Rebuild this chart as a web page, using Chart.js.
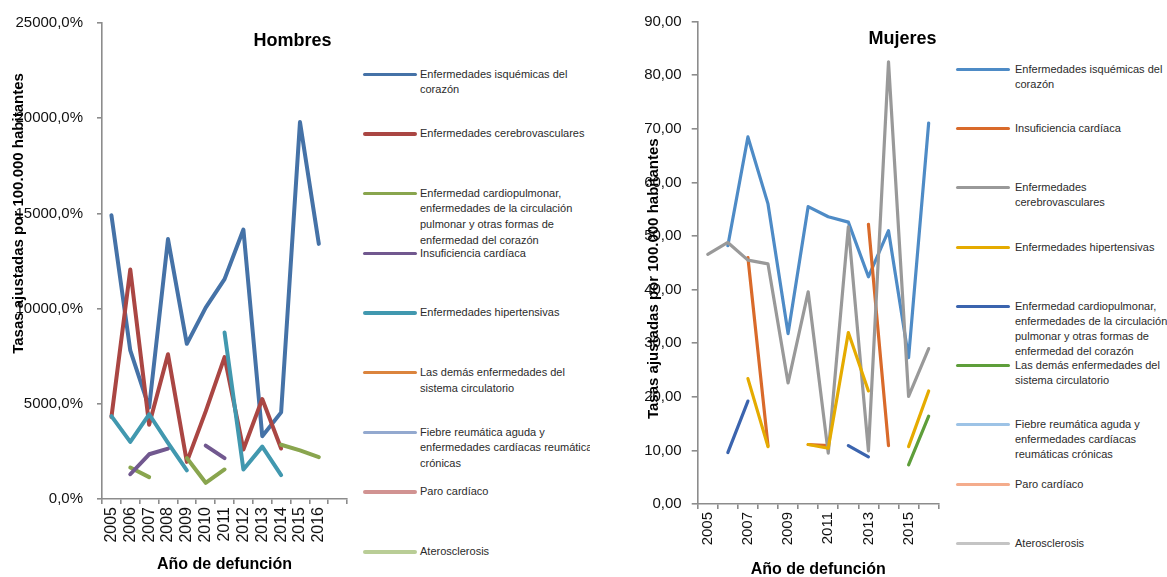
<!DOCTYPE html>
<html>
<head>
<meta charset="utf-8">
<script src="https://cdn.jsdelivr.net/npm/chart.js@4.4.1/dist/chart.umd.min.js"></script>
<style>
  html, body { margin: 0; padding: 0; background: #fff; }
  body { width: 1167px; height: 577px; position: relative; overflow: hidden; font-family: "Liberation Sans", Arial, sans-serif; }
  .panel { position: absolute; top: 0; height: 577px; overflow: hidden; background: #fff; }
  .leg-item { position: absolute; }
  .leg-mark { position: absolute; left: 0; border-radius: 2px; }
  .leg-text { position: absolute; color: #2b2b2b; font-size: 11px; }
</style>
</head>
<body>
<div class="panel" id="panelH" style="left:0;width:590px;">
  <canvas id="chartH" width="360" height="577" style="position:absolute;left:0;top:0;"></canvas>
  <div id="legH"></div>
</div>
<div class="panel" id="panelM" style="left:590px;width:577px;">
  <canvas id="chartM" width="360" height="577" style="position:absolute;left:0;top:0;"></canvas>
  <div id="legM"></div>
</div>
<script>
// ---------- DATA ----------
const categoriasH = ['2005','2006','2007','2008','2009','2010','2011','2012','2013','2014','2015','2016',''];
const categoriasM = ['2005','2006','2007','2008','2009','2010','2011','2012','2013','2014','2015','2016'];

const nombresH = [
  'Enfermedades isquémicas del corazón',
  'Enfermedades cerebrovasculares',
  'Enfermedad cardiopulmonar, enfermedades de la circulación pulmonar y otras formas de enfermedad del corazón',
  'Insuficiencia cardíaca',
  'Enfermedades hipertensivas',
  'Las demás enfermedades del sistema circulatorio',
  'Fiebre reumática aguda y enfermedades cardíacas reumáticas crónicas',
  'Paro cardíaco',
  'Aterosclerosis'
];
const isquemicasH     = [14900, 7800, 4800, 13650, 8150, 10050, 11550, 14150, 3300, 4550, 19800, 13400];
const cerebroH        = [4300, 12050, 3900, 7600, 1950, 4600, 7450, 2600, 5250, 2650, null, null];
const cardiopulmonarH = [null, 1650, 1150, null, 2150, 850, 1550, null, null, 2850, 2550, 2200];
const insuficienciaH  = [null, 1300, 2350, 2650, null, 2800, 2150, null, null, null, null, null];
const hipertensivasH  = [4350, 3000, 4450, 2950, 1500, null, 8750, 1550, 2750, 1250, null, null];
const demasH          = [null, null, null, null, null, null, null, null, null, null, null, null];
const fiebreH         = [null, null, null, null, null, null, null, null, null, null, null, null];
const paroH           = [null, null, null, null, null, null, null, null, null, null, null, null];
const ateroH          = [null, null, null, null, null, null, null, null, null, null, null, null];

const nombresM = [
  'Enfermedades isquémicas del corazón',
  'Insuficiencia cardíaca',
  'Enfermedades cerebrovasculares',
  'Enfermedades hipertensivas',
  'Enfermedad cardiopulmonar, enfermedades de la circulación pulmonar y otras formas de enfermedad del corazón',
  'Las demás enfermedades del sistema circulatorio',
  'Fiebre reumática aguda y enfermedades cardíacas reumáticas crónicas',
  'Paro cardíaco',
  'Aterosclerosis'
];
const isquemicasM     = [null, 48.2, 68.5, 56.0, 31.8, 55.5, 53.6, 52.6, 42.4, 51.0, 27.3, 71.1];
const insuficienciaM  = [null, null, 46.0, 10.9, null, 11.1, 10.9, null, 52.2, 10.9, null, null];
const cerebroM        = [46.6, 48.8, 45.5, 44.8, 22.6, 39.6, 9.5, 51.7, 9.9, 82.5, 20.1, 29.0];
const hipertensivasM  = [null, null, 23.4, 10.7, null, 11.1, 10.4, 32.0, 21.1, null, 10.7, 21.1];
const cardiopulmonarM = [null, 9.6, 19.2, null, null, null, null, 10.9, 8.8, null, null, null];
const demasM          = [null, null, null, null, null, null, null, null, null, null, 7.3, 16.4];
const fiebreM         = [null, null, null, null, null, null, null, null, null, null, null, null];
const paroM           = [null, null, null, null, null, null, null, null, null, null, null, null];
const ateroM          = [null, null, null, null, null, null, null, null, null, null, null, null];

const ejeYH = { min: 0, max: 25000, paso: 5000 };
const ejeYM = { min: 0, max: 90, paso: 10 };

// ---------- STYLES ----------
const coloresH = ['#4572A7', '#AA4643', '#89A54E', '#71588F', '#4198AF', '#DB843D', '#93A9CF', '#D19392', '#B9CD96'];
const coloresM = ['#4E8BC6', '#D96A2A', '#999999', '#E5AB00', '#3B64AE', '#5E9E3A', '#9DC3E6', '#F4AC8C', '#C4C4C4'];

const FONT = '"Liberation Sans", Arial, sans-serif';
const AXIS = '#8c8c8c';

const panelText = {
  id: 'panelText',
  afterDraw(chart, args, o) {
    const ctx = chart.ctx, a = chart.chartArea;
    ctx.save();
    ctx.fillStyle = '#000';
    ctx.textAlign = 'center';
    ctx.textBaseline = 'middle';
    ctx.font = 'bold 18px ' + FONT;
    ctx.fillText(o.title, a.right + o.tdx, a.top + o.tdy);
    ctx.translate(a.left + o.ydx, a.top + o.ydy);
    ctx.rotate(-Math.PI / 2);
    ctx.font = 'bold 15px ' + FONT;
    ctx.fillText(o.yTitle, 0, 0);
    ctx.restore();
  }
};

function makeDatasets(names, series, colors, width) {
  const n = series.length;
  return series.map((d, i) => ({
    label: names[i],
    data: d,
    borderColor: colors[i],
    backgroundColor: colors[i],
    borderWidth: width,
    pointRadius: 0,
    pointHoverRadius: 0,
    tension: 0,
    spanGaps: false,
    fill: false,
    borderJoinStyle: 'round',
    borderCapStyle: 'round',
    order: n - i
  }));
}

function makeChart(id, cfg) {
  return new Chart(document.getElementById(id), {
    type: 'line',
    data: { labels: cfg.labels, datasets: makeDatasets(cfg.names, cfg.series, cfg.colors, cfg.lineWidth) },
    plugins: [panelText],
    options: {
      responsive: false,
      animation: false,
      events: [],
      layout: { padding: cfg.padding },
      plugins: {
        legend: { display: false },
        tooltip: { enabled: false },
        panelText: cfg.text
      },
      scales: {
        x: {
          type: 'category',
          offset: true,
          afterFit: s => { s.height = cfg.xHeight; },
          border: { display: true, color: AXIS, width: 1.6 },
          grid: { display: true, offset: true, drawOnChartArea: false, drawTicks: true, tickLength: 5, color: AXIS, lineWidth: 1.6 },
          ticks: {
            autoSkip: false, maxRotation: 90, minRotation: 90, padding: 3,
            color: '#111', font: { family: FONT, size: cfg.xFont },
            callback: cfg.xCallback
          },
          title: {
            display: true, text: 'Año de defunción', color: '#000',
            font: { family: FONT, size: 16, weight: 'bold' },
            padding: cfg.xTitlePad
          }
        },
        y: {
          min: cfg.y.min, max: cfg.y.max,
          afterFit: s => { s.width = cfg.yWidth; },
          border: { display: true, color: AXIS, width: 1.6 },
          grid: { display: true, drawOnChartArea: false, drawTicks: true, tickLength: cfg.yTick, color: AXIS, lineWidth: 1.6 },
          ticks: {
            stepSize: cfg.y.paso, padding: cfg.yPad,
            color: '#111', font: { family: FONT, size: 15 },
            callback: cfg.yFormat
          }
        }
      }
    }
  });
}

makeChart('chartH', {
  labels: categoriasH,
  names: nombresH,
  series: [isquemicasH, cerebroH, cardiopulmonarH, insuficienciaH, hipertensivasH, demasH, fiebreH, paroH, ateroH],
  colors: coloresH,
  lineWidth: 4,
  padding: { top: 21, right: 3, left: 0, bottom: 0 },
  xHeight: 78, yWidth: 102, yTick: 5, yPad: 14, xFont: 16,
  xTitlePad: { top: 0, bottom: 2.5 },
  y: ejeYH,
  yFormat: v => v.toFixed(1).replace('.', ',') + '%',
  xCallback: function (v, i) { return this.getLabelForValue(v); },
  text: { title: 'Hombres', tdx: -54.5, tdy: 18, yTitle: 'Tasas ajustadas por 100.000 habitantes', ydx: -83, ydy: 190.5 }
});

makeChart('chartM', {
  labels: categoriasM,
  names: nombresM,
  series: [isquemicasM, insuficienciaM, cerebroM, hipertensivasM, cardiopulmonarM, demasM, fiebreM, paroM, ateroM],
  colors: coloresM,
  lineWidth: 3.2,
  padding: { top: 21.7, right: 7.7, left: 0, bottom: 0 },
  xHeight: 73, yWidth: 107.7, yTick: 6, yPad: 10, xFont: 15,
  xTitlePad: { top: 0, bottom: -2.6 },
  y: ejeYM,
  yFormat: v => v.toFixed(2).replace('.', ','),
  xCallback: function (v, i) { return i % 2 === 0 ? this.getLabelForValue(v) : ''; },
  text: { title: 'Mujeres', tdx: -36.3, tdy: 17.3, yTitle: 'Tasas ajustadas por 100.000 habitantes', ydx: -43.7, ydy: 257 }
});

// ---------- LEGENDS (HTML, real text) ----------
function buildLegend(elId, names, colors, o) {
  const el = document.getElementById(elId);
  names.forEach((name, i) => {
    const cy = o.start + i * o.step;
    const item = document.createElement('div');
    item.className = 'leg-item';
    item.style.left = o.markLeft + 'px';
    item.style.top = (cy - o.lh / 2) + 'px';
    const mark = document.createElement('div');
    mark.className = 'leg-mark';
    mark.style.width = o.markW + 'px';
    mark.style.height = o.markH + 'px';
    mark.style.top = (o.lh / 2 - o.markH / 2) + 'px';
    mark.style.background = colors[i];
    const txt = document.createElement('div');
    txt.className = 'leg-text';
    txt.style.left = o.textOff + 'px';
    txt.style.top = '0px';
    txt.style.width = o.wrap + 'px';
    txt.style.lineHeight = o.lh + 'px';
    txt.style.fontSize = o.fs + 'px';
    txt.textContent = name;
    item.appendChild(mark);
    item.appendChild(txt);
    el.appendChild(item);
  });
}
buildLegend('legH', nombresH, coloresH, { start: 74.3, step: 59.7, markLeft: 363, markW: 54, markH: 3.4, textOff: 57, wrap: 183, lh: 15.6, fs: 11 });
buildLegend('legM', nombresM, coloresM, { start: 69.3, step: 59.25, markLeft: 366, markW: 54, markH: 3, textOff: 59, wrap: 158, lh: 15, fs: 11 });
</script>
</body>
</html>
